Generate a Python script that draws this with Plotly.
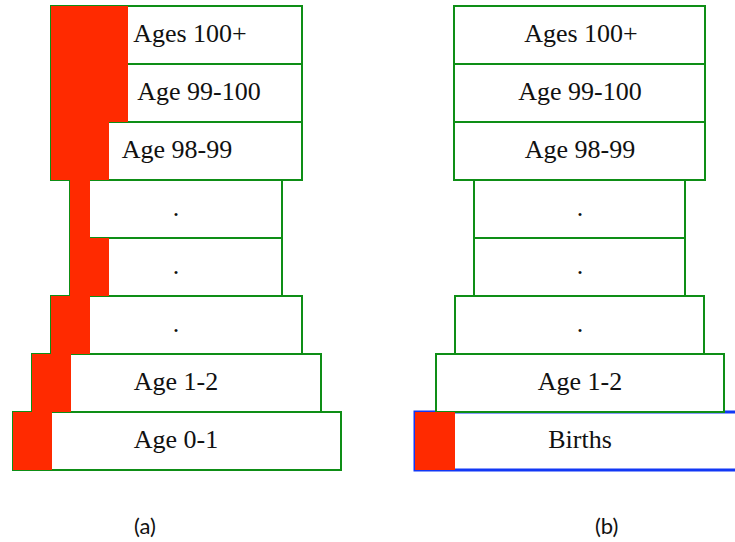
import plotly.graph_objects as go

# Rows from bottom (0) to top (7)
rows = [0, 1, 2, 3, 4, 5, 6, 7]

# Panel (a)
labels_a = ["Age 0-1", "Age 1-2", ".", ".", ".", "Age 98-99", "Age 99-100", "Ages 100+"]
start_a = [13, 32, 51, 70, 70, 51, 51, 51]
end_a = [341, 321, 302, 282, 282, 302, 302, 302]
red_a = [39, 39, 39, 39, 20, 58, 77, 77]
label_x_a = [176, 176, 176, 176, 176, 177, 199, 190]

# Panel (b)
labels_b = ["Births", "Age 1-2", ".", ".", ".", "Age 98-99", "Age 99-100", "Ages 100+"]
start_b = [415, 436, 455, 474, 474, 454, 454, 454]
end_b = [770, 724, 704, 685, 685, 705, 705, 705]
red_b = [40, 0, 0, 0, 0, 0, 0, 0]
label_x_b = [580, 580, 580, 580, 580, 580, 580, 581]

panel_names = ["(a)", "(b)"]
panel_x = [145, 606]

GREEN = "#0E8E16"
BLUE = "#1238F5"
RED = "#FF2A00"

ROW_PX = 58.0
Y_TOP = 7.5 + 6 / ROW_PX  # value at pixel 0

fig = go.Figure()

# White boxes with borders
for starts, ends, edge in [(start_a, end_a, [GREEN] * 8),
                           (start_b, end_b, [BLUE] + [GREEN] * 7)]:
    widths_line = [3 if c == BLUE else 2 for c in edge]
    for r, s, e, c, lw in zip(rows, starts, ends, edge, widths_line):
        fig.add_trace(go.Bar(
            orientation="h", y=[r], base=[s], x=[e - s], width=[1],
            marker=dict(color="white", line=dict(color=c, width=lw)),
            hoverinfo="skip", showlegend=False,
        ))

# Red portions
for starts, reds in [(start_a, red_a), (start_b, red_b)]:
    ys = [r for r, w in zip(rows, reds) if w > 0]
    bs = [s for s, w in zip(starts, reds) if w > 0]
    ws = [w for w in reds if w > 0]
    fig.add_trace(go.Bar(
        orientation="h", y=ys, base=bs, x=ws, width=[1] * len(ys),
        marker=dict(color=RED, line=dict(width=0)),
        hoverinfo="skip", showlegend=False,
    ))

# Labels
for lx, labs in [(label_x_a, labels_a), (label_x_b, labels_b)]:
    fig.add_trace(go.Scatter(
        x=lx, y=rows, mode="text", text=labs, textposition="middle center",
        textfont=dict(family="Liberation Serif", size=26, color="#111111"),
        hoverinfo="skip", showlegend=False, cliponaxis=False,
    ))

for name, px in zip(panel_names, panel_x):
    fig.add_annotation(x=px, y=Y_TOP - 525 / ROW_PX, text=name, showarrow=False,
                       font=dict(family="Lato", size=22, color="#111111"),
                       xref="x", yref="y")

fig.update_layout(
    width=735, height=542,
    margin=dict(l=0, r=0, t=0, b=0),
    barmode="overlay", bargap=0,
    plot_bgcolor="white", paper_bgcolor="white",
    xaxis=dict(range=[0, 735], visible=False, fixedrange=True),
    yaxis=dict(range=[Y_TOP - 542 / ROW_PX, Y_TOP],
               visible=False, fixedrange=True),
)

fig.write_html(
    "out.html",
    config={"displayModeBar": False, "staticPlot": True},
    post_script="document.body.style.margin='0';document.body.style.overflow='hidden';",
)
